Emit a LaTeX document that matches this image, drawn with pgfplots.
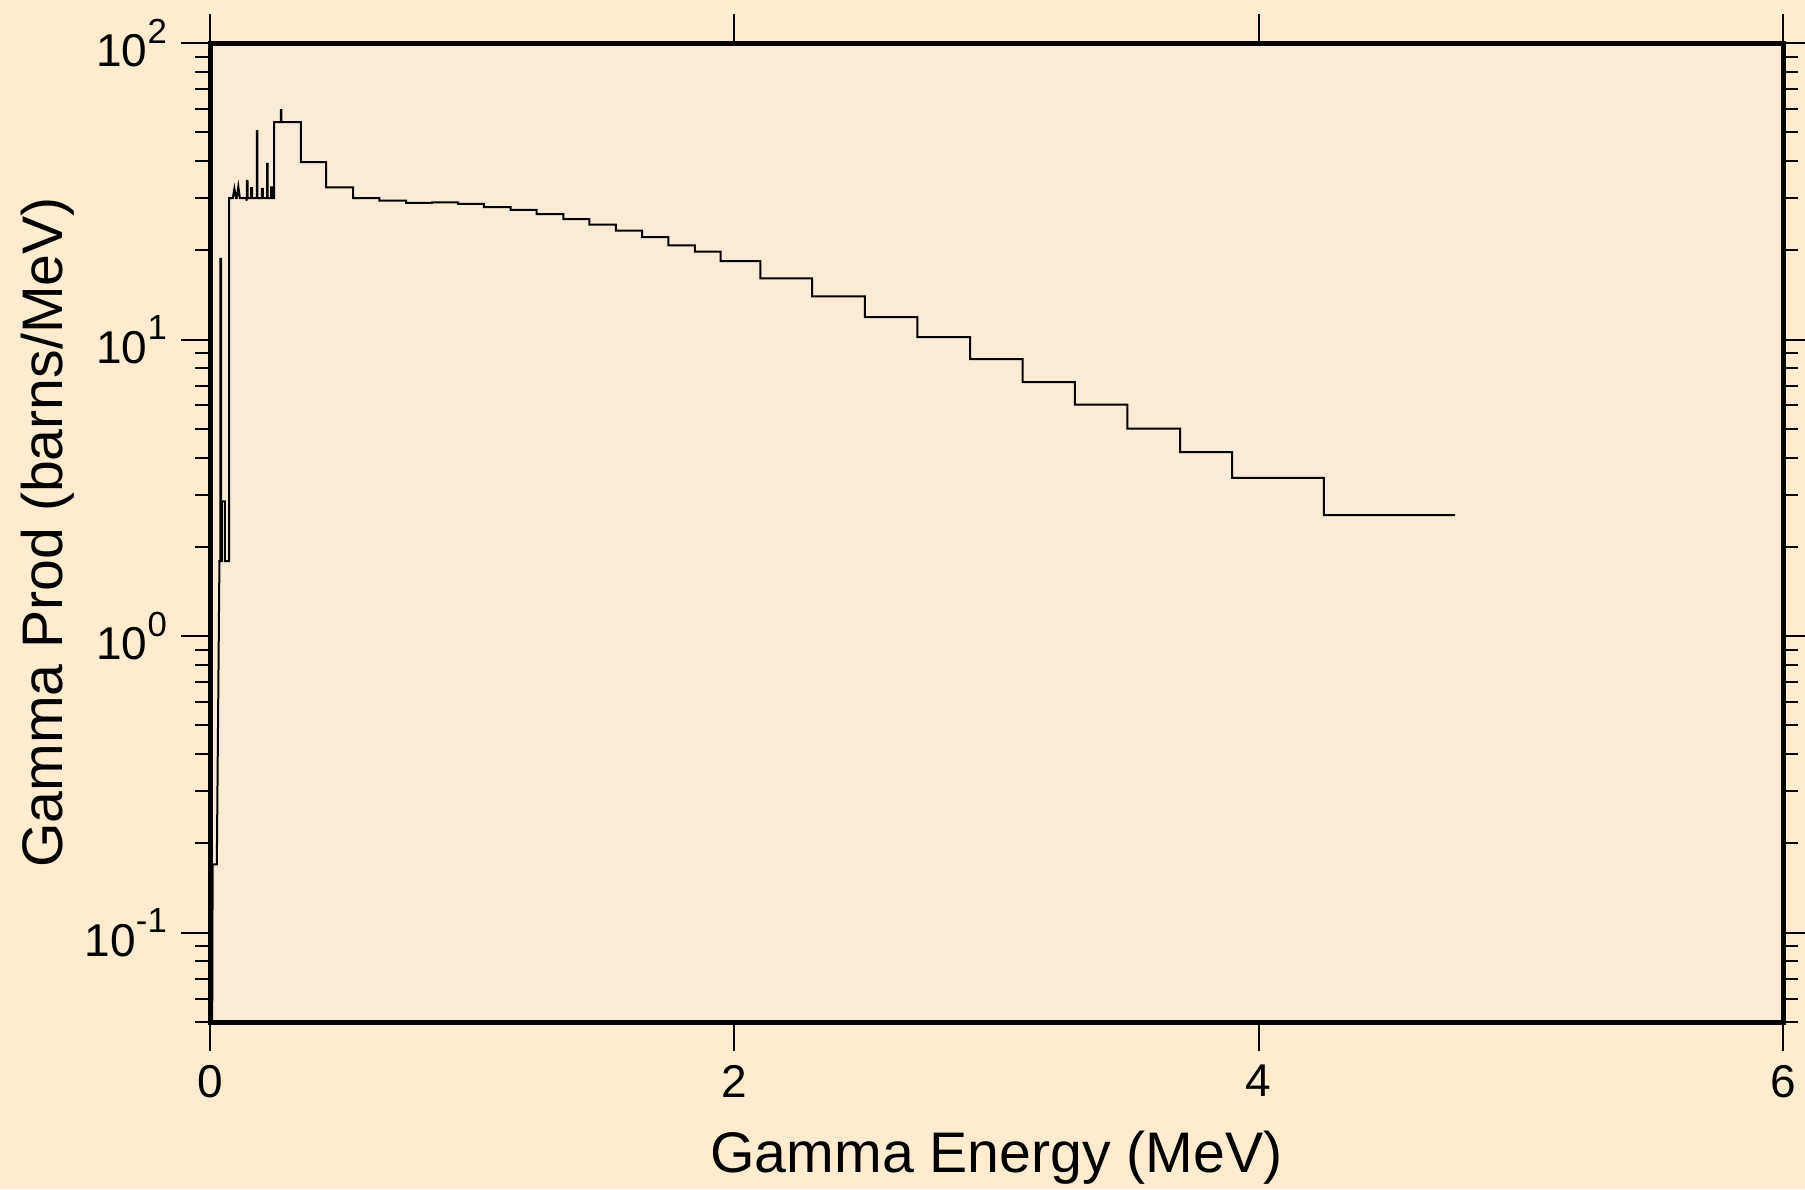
\documentclass[border=0pt]{standalone}
\usepackage{fontspec}
\setmainfont{Liberation Sans}
\usepackage{pgfplots}
\pgfplotsset{compat=1.18}
\definecolor{outerbg}{RGB}{255,235,205}
\definecolor{innerbg}{RGB}{250,235,215}
\begin{document}
\begin{tikzpicture}
\fill[outerbg] (-52.5pt,-41.75pt) rectangle (398.75pt,255.5pt);
\begin{axis}[
  at={(0,0)}, anchor=south west,
  scale only axis, width=393.25pt, height=244.75pt,
  ymode=log, xmin=0, xmax=6, ymin=0.05, ymax=100,
  xtick={0,2,4,6},
  axis line style={line width=1.25pt},
  tick style={line width=0.5pt, black},
  major tick length=7.25pt, minor tick length=3.75pt,
  tick align=outside,
  axis background/.style={fill=innerbg},
  ticklabel style={font=\fontsize{11.5}{13}\selectfont},
  /pgf/number format/assume math mode=true,
  log number format basis/.code 2 args={#1\raisebox{5.85pt}{\fontsize{8.7}{9}\selectfont\pgfmathprintnumber{#2}}},
]
\addplot[black, line width=0.5pt, no marks] coordinates {
(0.000,0.0001) (0.010,0.17) (0.026,0.17) (0.036,1.79)
(0.040,1.79) (0.040,18.7) (0.042,18.7) (0.042,1.79)
(0.045,1.79) (0.045,2.85) (0.057,2.85) (0.057,1.79)
(0.0725,1.79) (0.0725,30.0)
(0.087,30.0) (0.093,32.3) (0.099,30.0)
(0.102,30.0) (0.108,32.8) (0.114,30.0)
(0.139,30.0) (0.140,29.4) (0.141,34.3) (0.143,34.3) (0.144,30.0)
(0.157,30.0) (0.157,32.4) (0.161,32.4) (0.161,30.0)
(0.179,30.0) (0.179,50.5) (0.181,50.5) (0.181,30.0)
(0.198,30.0) (0.198,32.2) (0.202,32.2) (0.202,30.0)
(0.218,30.0) (0.218,39.1) (0.220,39.1) (0.220,30.0)
(0.233,30.0) (0.233,32.6) (0.237,32.6) (0.237,30.0)
(0.245,30.0) (0.245,54.1)
(0.270,54.1) (0.270,59.4) (0.272,59.4) (0.272,54.1)
(0.347,54.1) (0.347,39.7)
(0.443,39.7) (0.443,32.6)
(0.546,32.6) (0.546,30.0)
(0.646,30.0) (0.646,29.4)
(0.748,29.4) (0.748,28.9)
(0.847,28.9) (0.847,29.0)
(0.946,29.0) (0.946,28.7)
(1.045,28.7) (1.045,27.96)
(1.147,27.96) (1.147,27.4)
(1.246,27.4) (1.246,26.5)
(1.348,26.5) (1.348,25.5)
(1.447,25.5) (1.447,24.4)
(1.548,24.4) (1.548,23.3)
(1.648,23.3) (1.648,22.15)
(1.748,22.15) (1.748,20.8)
(1.849,20.8) (1.849,19.8)
(1.948,19.8) (1.948,18.4)
(2.099,18.4) (2.099,16.1)
(2.297,16.1) (2.297,13.98)
(2.498,13.98) (2.498,11.91)
(2.698,11.91) (2.698,10.2)
(2.899,10.2) (2.899,8.6)
(3.100,8.6) (3.100,7.19)
(3.299,7.19) (3.299,6.03)
(3.499,6.03) (3.499,5.01)
(3.700,5.01) (3.700,4.17)
(3.899,4.17) (3.899,3.42)
(4.249,3.42) (4.249,2.56)
(4.749,2.56)
};
\end{axis}
\node[anchor=base, font=\fontsize{14.3}{16}\selectfont] at (196.625pt,-37.6pt) {Gamma Energy (MeV)};
\node[anchor=base, rotate=90, font=\fontsize{14.3}{16}\selectfont] at (-36.8pt,122.375pt) {Gamma Prod (barns/MeV)};
\pgfresetboundingbox
\path (-52.5pt,-41.75pt) rectangle (398.75pt,255.5pt);
\end{tikzpicture}
\end{document}
